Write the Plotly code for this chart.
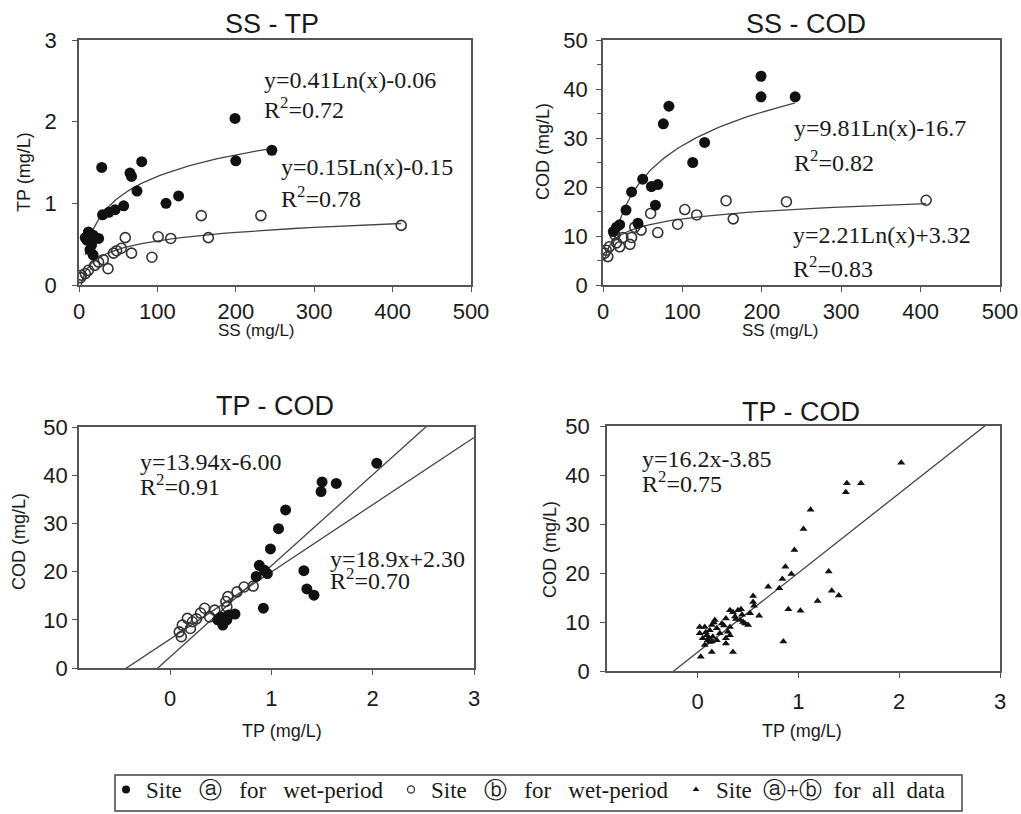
import numpy as np
import plotly.graph_objects as go

W, H = 1021, 814

# ---------------- data ----------------
# Panel 1: SS - TP
ss_a_p1 = [29, 80, 65, 67, 74, 199, 200, 246, 111, 127, 30, 38, 46, 57, 12, 18, 25, 10, 16, 14, 18, 8]
tp_a_p1 = [1.44, 1.51, 1.37, 1.33, 1.15, 2.04, 1.52, 1.65, 1.00, 1.09, 0.86, 0.89, 0.92, 0.97,
           0.65, 0.61, 0.57, 0.55, 0.49, 0.43, 0.37, 0.58]
ss_b_p1 = [156, 232, 411, 165, 117, 101, 59, 93, 67, 54, 44, 37, 31, 20, 12, 3, 2, 8, 25, 48]
tp_b_p1 = [0.85, 0.85, 0.73, 0.58, 0.57, 0.59, 0.58, 0.34, 0.39, 0.45, 0.39, 0.20, 0.31, 0.24,
           0.18, 0.12, 0.09, 0.14, 0.28, 0.42]

# Panel 2: SS - COD
ss_a_p2 = [199, 199, 242, 83, 76, 128, 113, 50, 61, 69, 36, 66, 29, 44, 21, 13, 17]
cod_a_p2 = [42.6, 38.4, 38.4, 36.5, 32.9, 29.1, 25.0, 21.6, 20.1, 20.5, 19.0, 16.3, 15.3, 12.6,
            12.3, 10.9, 11.8]
ss_b_p2 = [155, 231, 407, 103, 118, 164, 94, 69, 60, 48, 34, 36, 25, 17, 15, 8, 4, 2, 6, 21, 40]
cod_b_p2 = [17.2, 17.0, 17.3, 15.4, 14.3, 13.5, 12.4, 10.7, 14.6, 11.2, 8.3, 9.7, 9.7, 8.6, 10.2,
            7.8, 7.1, 6.5, 5.8, 7.8, 11.8]

# Panel 3: TP - COD (wet period, two sites)
tp_a_p3 = [2.04, 1.50, 1.49, 1.64, 1.14, 1.07, 0.99, 1.32, 1.35, 1.42, 0.88, 0.93, 0.96, 0.85,
           0.92, 0.50, 0.58, 0.64, 0.52, 0.47, 0.56]
cod_a_p3 = [42.5, 38.6, 36.6, 38.3, 32.8, 28.9, 24.7, 20.2, 16.4, 15.1, 21.3, 20.3, 19.6, 19.0,
            12.4, 10.6, 11.0, 11.2, 8.9, 10.0, 10.0]
tp_b_p3 = [0.82, 0.73, 0.66, 0.57, 0.55, 0.56, 0.44, 0.34, 0.39, 0.30, 0.17, 0.12, 0.20, 0.09,
           0.11, 0.22, 0.26]
cod_b_p3 = [17.0, 16.8, 15.8, 14.8, 13.8, 12.7, 12.0, 12.4, 10.6, 11.4, 10.3, 8.9, 8.2, 7.5,
            6.5, 9.6, 10.2]

# Panel 4: TP - COD (all data)
tp_all = [2.02, 1.48, 1.47, 1.62, 1.12, 1.05, 0.96, 1.30, 1.33, 1.40, 1.19, 0.87, 0.93, 0.84,
          0.81, 0.70, 0.90, 1.02, 0.85, 0.61, 0.55, 0.55, 0.56, 0.52, 0.50, 0.40, 0.32, 0.37,
          0.42, 0.45, 0.32, 0.32, 0.28, 0.35, 0.28, 0.17, 0.14, 0.19, 0.07, 0.02, 0.02, 0.09,
          0.10, 0.14, 0.07, 0.14, 0.03, 0.22, 0.24, 0.12, 0.05, 0.15, 0.19, 0.35, 0.43, 0.38,
          0.47, 0.08, 0.11, 0.16, 0.26, 0.30, 0.44, 0.12, 0.28]
cod_all = [42.5, 38.3, 36.5, 38.3, 32.9, 29.0, 24.7, 20.3, 16.4, 15.4, 14.3, 21.3, 19.8, 18.8,
           16.9, 17.2, 12.6, 12.3, 6.0, 11.3, 15.3, 14.1, 13.3, 11.8, 9.4, 12.4, 12.4, 11.1,
           10.4, 10.0, 9.0, 7.3, 5.6, 3.9, 6.7, 10.4, 9.4, 8.7, 9.0, 9.0, 7.7, 7.3,
           6.3, 6.0, 5.3, 3.9, 2.9, 7.7, 9.7, 8.3, 6.7, 7.0, 6.3, 12.0, 12.6, 10.6,
           9.7, 7.9, 6.8, 9.9, 9.3, 8.0, 11.5, 5.9, 10.7]

# Trend lines as drawn (slope, intercept)
trend_p1 = {"a": (0.38, -0.42), "b": (0.15, -0.15)}
trend_p2 = {"a": (9.81, -16.7), "b": (2.21, 3.32)}
trend_p3 = {"a": (18.9, 2.30), "b": (13.94, 6.00)}
trend_p4 = (16.2, 3.85)

# Texts
titles = ["SS - TP", "SS - COD", "TP - COD", "TP - COD"]
eq_texts = {
    "p1a": ["y=0.41Ln(x)-0.06", "R<sup>2</sup>=0.72"],
    "p1b": ["y=0.15Ln(x)-0.15", "R<sup>2</sup>=0.78"],
    "p2a": ["y=9.81Ln(x)-16.7", "R<sup>2</sup>=0.82"],
    "p2b": ["y=2.21Ln(x)+3.32", "R<sup>2</sup>=0.83"],
    "p3a": ["y=13.94x-6.00", "R<sup>2</sup>=0.91"],
    "p3b": ["y=18.9x+2.30", "R<sup>2</sup>=0.70"],
    "p4": ["y=16.2x-3.85", "R<sup>2</sup>=0.75"],
}
legend_names = ["Site\u00a0\u00a0 ⓐ\u00a0\u00a0 for\u00a0\u00a0 wet-period",
                "Site\u00a0\u00a0 ⓑ\u00a0\u00a0 for\u00a0\u00a0 wet-period",
                "Site\u00a0 ⓐ+ⓑ\u00a0 for\u00a0 all\u00a0 data"]

# ---------------- helpers ----------------
def pxx(px):
    return px / W

def pxy(py):
    return 1 - py / H

SANS = "Liberation Sans, Arial, sans-serif"
SERIF = "Liberation Serif, Times New Roman, serif"
INK = "#1a1a1a"
AX = "#555555"

fig = go.Figure()

filled = dict(symbol="circle", size=11, color="#111111")
opened = dict(symbol="circle-open", size=10, color="#333333", line=dict(width=1.6, color="#333333"))
tri = dict(symbol="triangle-up", size=7, color="#111111")
trend_line = dict(color="#444444", width=1.3)

def scatter(x, y, marker, ax):
    fig.add_trace(go.Scatter(x=x, y=y, mode="markers", marker=marker, showlegend=False,
                             xaxis="x" + ax, yaxis="y" + ax, hoverinfo="x+y"))

def log_curve(xdata, coef, ax):
    xs = np.geomspace(min(xdata), max(xdata), 80)
    ys = coef[0] * np.log(xs) + coef[1]
    fig.add_trace(go.Scatter(x=xs, y=ys, mode="lines", line=trend_line, showlegend=False,
                             xaxis="x" + ax, yaxis="y" + ax, hoverinfo="skip"))

def lin_line(coef, xr, ax):
    xs = np.array(xr)
    ys = coef[0] * xs + coef[1]
    fig.add_trace(go.Scatter(x=xs, y=ys, mode="lines", line=trend_line, showlegend=False,
                             xaxis="x" + ax, yaxis="y" + ax, hoverinfo="skip"))

# Panel 1
log_curve(ss_a_p1, trend_p1["a"], "")
log_curve(ss_b_p1, trend_p1["b"], "")
scatter(ss_b_p1, tp_b_p1, opened, "")
scatter(ss_a_p1, tp_a_p1, filled, "")
# Panel 2
log_curve(ss_a_p2, trend_p2["a"], "2")
log_curve(ss_b_p2, trend_p2["b"], "2")
scatter(ss_b_p2, cod_b_p2, opened, "2")
scatter(ss_a_p2, cod_a_p2, filled, "2")
# Panel 3
lin_line(trend_p3["a"], [-0.9, 3.0], "3")
lin_line(trend_p3["b"], [-0.9, 3.0], "3")
scatter(tp_b_p3, cod_b_p3, opened, "3")
scatter(tp_a_p3, cod_a_p3, filled, "3")
# Panel 4
lin_line(trend_p4, [-0.9, 3.0], "4")
scatter(tp_all, cod_all, tri, "4")

# legend-only entries
for name, mk in zip(legend_names,
                    [dict(symbol="circle", size=8, color="#111111"),
                     dict(symbol="circle-open", size=7, color="#333333", line=dict(width=1.3)),
                     dict(symbol="triangle-up", size=6, color="#111111")]):
    fig.add_trace(go.Scatter(x=[None], y=[None], mode="markers", marker=mk, name=name,
                             showlegend=True, xaxis="x", yaxis="y"))

# ---------------- axes ----------------
boxes = {
    "": dict(x=(79, 471), y=(40, 285)),
    "2": dict(x=(603, 1000), y=(40, 285)),
    "3": dict(x=(79, 474), y=(427, 668)),
    "4": dict(x=(607, 1000), y=(426, 671)),
}

def axis_common():
    return dict(showline=True, linecolor=AX, linewidth=1.5, mirror=True, ticks="outside",
                ticklen=5, tickwidth=1.2, tickcolor=AX, showgrid=False, zeroline=False,
                automargin=False,
                tickfont=dict(family=SANS, size=22, color="#1a1a1a"))

xcfg = {
    "": dict(range=[0, 500], dtick=100, tick0=0, ticklabelstandoff=1),
    "2": dict(range=[0, 500], dtick=100, tick0=0, ticklabelstandoff=1),
    "3": dict(range=[-0.9, 3], tickvals=[0, 1, 2, 3], ticklabelstandoff=5),
    "4": dict(range=[-0.9, 3], tickvals=[0, 1, 2, 3], ticklabelstandoff=5),
}
ycfg = {
    "": dict(range=[0, 3], dtick=1, tick0=0, ticklabelstandoff=11),
    "2": dict(range=[0, 50], dtick=10, tick0=0, ticklabelstandoff=4,
              minor=dict(dtick=5, ticks="outside", ticklen=4, tickcolor=AX)),
    "3": dict(range=[0, 50], dtick=10, tick0=0, ticklabelstandoff=0),
    "4": dict(range=[0, 50], dtick=10, tick0=0, ticklabelstandoff=6),
}

layout_axes = {}
for k, b in boxes.items():
    xa = axis_common()
    xa.update(xcfg[k])
    xa["domain"] = [pxx(b["x"][0]), pxx(b["x"][1])]
    xa["anchor"] = "y" + k
    ya = axis_common()
    ya.update(ycfg[k])
    ya["domain"] = [pxy(b["y"][1]), pxy(b["y"][0])]
    ya["anchor"] = "x" + k
    layout_axes["xaxis" + k] = xa
    layout_axes["yaxis" + k] = ya

# ---------------- annotations ----------------
ann = []

def text(px, py, s, size, family, xanchor="center", angle=0):
    ann.append(dict(x=pxx(px), y=pxy(py), xref="paper", yref="paper", text=s, showarrow=False,
                    xanchor=xanchor, yanchor="middle", textangle=angle,
                    font=dict(family=family, size=size, color=INK)))

# titles
for (px, py), t in zip([(272, 24), (806, 24), (275, 406), (801, 412)], titles):
    text(px, py, t, 27, SANS)

# axis titles
text(256, 330, "SS (mg/L)", 17, SANS)
text(780, 330, "SS (mg/L)", 17, SANS)
text(282, 731, "TP (mg/L)", 18, SANS)
text(802, 731, "TP (mg/L)", 18, SANS)
text(24, 172, "TP (mg/L)", 18, SANS, angle=-90)
text(543, 152, "COD (mg/L)", 18, SANS, angle=-90)
text(19, 542, "COD (mg/L)", 18, SANS, angle=-90)
text(550, 550, "COD (mg/L)", 18, SANS, angle=-90)

# equations
eq_pos = {
    "p1a": (262, 80, 108),
    "p1b": (279, 167, 197),
    "p2a": (792, 128, 161),
    "p2b": (791, 235, 267),
    "p3a": (138, 462, 485),
    "p3b": (328, 559, 579),
    "p4": (640, 459, 482),
}
for key, (px, y1, y2) in eq_pos.items():
    text(px, y1, eq_texts[key][0], 24, SERIF, xanchor="left")
    text(px, y2, eq_texts[key][1], 24, SERIF, xanchor="left")

# legend frame
fig.add_shape(type="rect", xref="paper", yref="paper",
              x0=pxx(115), x1=pxx(962), y0=pxy(811), y1=pxy(775),
              line=dict(color="#444444", width=1.5), fillcolor="rgba(0,0,0,0)", layer="below")

fig.update_layout(
    width=W, height=H, autosize=False,
    margin=dict(l=0, r=0, t=0, b=0, autoexpand=False),
    paper_bgcolor="white", plot_bgcolor="white",
    annotations=ann,
    showlegend=True,
    legend=dict(orientation="h", x=pxx(106), y=pxy(768), xanchor="left", yanchor="top",
                borderwidth=0, bgcolor="rgba(0,0,0,0)",
                font=dict(family=SERIF, size=23, color=INK), itemsizing="trace",
                tracegroupgap=0, entrywidth=240, entrywidthmode="pixels"),
    **layout_axes,
)

fig.write_html("out.html", config={"displayModeBar": False},
               post_script="document.body.style.margin='0';")
